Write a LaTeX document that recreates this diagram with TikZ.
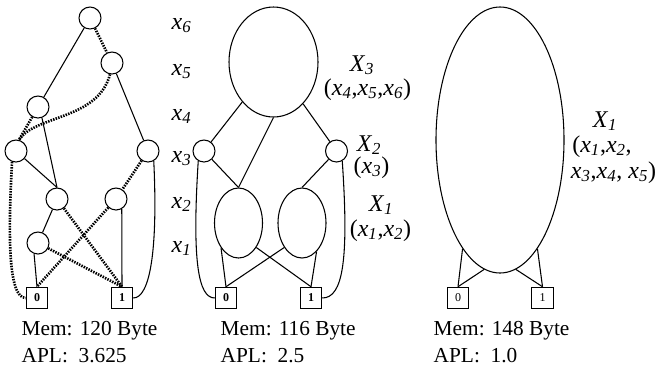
\documentclass[tikz,border=0pt]{standalone}
\usepackage{fontspec}
\setmainfont{Liberation Serif}
\usetikzlibrary{shapes.geometric}
\newcommand{\varsub}[2]{\textit{#1}\textsubscript{\textit{#2}}}

\begin{document}
\begin{tikzpicture}[x=0.75pt, y=-0.75pt,
    vnode/.style={circle, draw, line width=0.8pt, minimum size=16.5pt, inner sep=0pt},
    gnode/.style={ellipse, draw, line width=0.8pt, inner sep=0pt},
    tbox/.style={rectangle, draw, line width=0.9pt, minimum size=16pt, inner sep=0pt, font=\fontsize{9}{10}\selectfont\bfseries},
    hi/.style={line width=0.8pt},
    lo/.style={line width=2pt, dash pattern=on 1.1pt off 0.9pt},
    lvl/.style={anchor=base west, font=\fontsize{18}{20}\selectfont},
    grp/.style={anchor=base, font=\fontsize{18}{20}\selectfont},
    stat/.style={anchor=base west, font=\fontsize{16}{18}\selectfont}]
    \useasboundingbox (0,0) rectangle (655,365);

    % left diagram
    \node[vnode] (a6) at (90,18) {};
    \node[vnode] (a5) at (112,63) {};
    \node[vnode] (a4) at (38,107) {};
    \node[vnode] (a3l) at (16,151) {};
    \node[vnode] (a3r) at (148,151) {};
    \node[vnode] (a2l) at (57,199) {};
    \node[vnode] (a2r) at (116,199) {};
    \node[vnode] (a1) at (38,243) {};
    \node[tbox] (t0a) at (37,298) {0};
    \node[tbox] (t1a) at (122,298) {1};

    \draw[hi] (a6) -- (a4);
    \draw[lo] (a6) -- (a5);
    \draw[hi] (a5) -- (a3r);
    \draw[lo] (a5.260) .. controls (98,120) and (35,115) .. (a3l.75);
    \draw[lo] (a4) -- (a3l.75);
    \draw[hi] (a4.290) -- (a2l.north);
    \draw[hi] (a3l) -- (a2l.north);
    \draw[lo] (a3l.250) .. controls (8,235) and (8,298) .. (t0a.west);
    \draw[lo] (a3r) -- (a2r);
    \draw[hi] (a3r.300) .. controls (158,250) and (150,298) .. (t1a.east);
    \draw[hi] (a2l) -- (a1);
    \draw[lo] (a2l) -- (t1a.north);
    \draw[lo] (a2r) -- (t0a.north);
    \draw[hi] (a2r.300) -- (t1a.north);
    \draw[hi] (a1.250) -- (t0a.north);
    \draw[lo] (a1) -- (t1a.north);

    \node[lvl] (l6) at (167,29) {\varsub{x}{6}};
    \node[lvl] (l5) at (167,75) {\varsub{x}{5}};
    \node[lvl] (l4) at (167,120) {\varsub{x}{4}};
    \node[lvl] (l3) at (167,162) {\varsub{x}{3}};
    \node[lvl] (l2) at (167,208) {\varsub{x}{2}};
    \node[lvl] (l1) at (167,252) {\varsub{x}{1}};

    % middle diagram
    \node[gnode, minimum width=66.75pt, minimum height=82.5pt] (b3) at (273.5,62) {};
    \node[vnode] (b2l) at (204,151) {};
    \node[vnode] (b2r) at (336.5,151) {};
    \node[gnode, minimum width=36pt, minimum height=52.5pt] (b1l) at (238.5,223) {};
    \node[gnode, minimum width=36pt, minimum height=52.5pt] (b1r) at (302,223) {};
    \node[tbox] (t0b) at (226,298) {0};
    \node[tbox] (t1b) at (311,298) {1};

    \draw[hi] (b3) -- (b2l);
    \draw[hi] (b3) -- (b2r);
    \draw[hi] (b3.south) -- (b1l.north);
    \draw[hi] (b2l) -- (b1l.north);
    \draw[hi] (b2r) -- (b1r.north);
    \draw[hi] (b2l.240) .. controls (192,260) and (198,298) .. (t0b.west);
    \draw[hi] (b2r.300) .. controls (349,260) and (343,298) .. (t1b.east);
    \draw[hi] (b1l.235) -- (t0b.north);
    \draw[hi] (b1l.306) -- (t1b.north);
    \draw[hi] (b1r.234) -- (t0b.north);
    \draw[hi] (b1r.297) -- (t1b.north);

    \node[grp] (g3) at (362,71) {\varsub{X}{3}};
    \node[grp] (g3v) at (367.5,95) {(\varsub{x}{4},\varsub{x}{5},\varsub{x}{6})};
    \node[grp] (g2) at (369,151) {\varsub{X}{2}};
    \node[grp] (g2v) at (371.5,173) {(\varsub{x}{3})};
    \node[grp] (g1) at (381,211) {\varsub{X}{1}};
    \node[grp] (g1v) at (380.5,236) {(\varsub{x}{1},\varsub{x}{2})};

    % right diagram
    \node[gnode, minimum width=96pt, minimum height=199.5pt] (c1) at (500,140) {};
    \node[tbox, font=\fontsize{9}{10}\selectfont] (t0c) at (458,298) {0};
    \node[tbox, font=\fontsize{9}{10}\selectfont] (t1c) at (542.5,298) {1};

    \draw[hi] (c1.251) -- (t0c.north);
    \draw[hi] (c1.263) -- (t0c.north);
    \draw[hi] (c1.289) -- (t1c.north);
    \draw[hi] (c1.277) -- (t1c.north);

    \node[grp] (h1) at (605,127) {\varsub{X}{1}};
    \node[grp] (h1a) at (602,152) {(\varsub{x}{1},\varsub{x}{2},};
    \node[grp] (h1b) at (613.5,178) {\varsub{x}{3},\varsub{x}{4}, \varsub{x}{5})};

    % memory and path length
    \node[stat] (m1) at (17,335) {Mem: 120 Byte};
    \node[stat] (p1) at (17,362) {APL:\ \ 3.625};
    \node[stat] (m2) at (216,335) {Mem: 116 Byte};
    \node[stat] (p2) at (216,362) {APL:\ \ 2.5};
    \node[stat] (m3) at (429,335) {Mem: 148 Byte};
    \node[stat] (p3) at (429,362) {APL:\ \ 1.0};
\end{tikzpicture}
\end{document}
